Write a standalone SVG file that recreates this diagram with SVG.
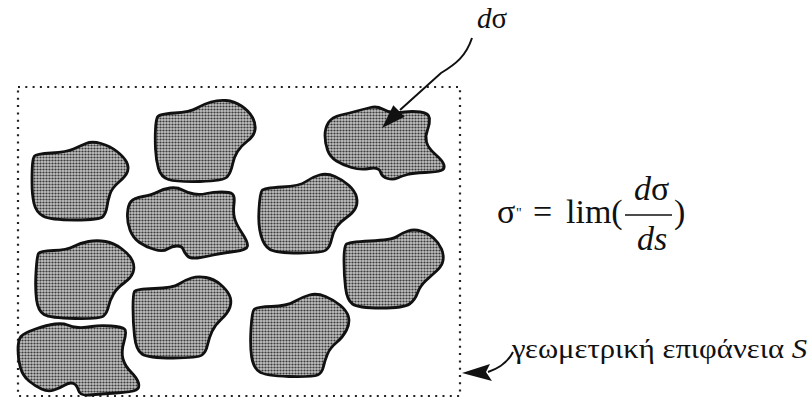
<svg xmlns="http://www.w3.org/2000/svg" width="810" height="398" viewBox="0 0 810 398">
<style>
.blob{fill:url(#stip);stroke:#111;stroke-width:2.8;stroke-linejoin:round}
.t{font-family:"Liberation Serif","Times New Roman","DejaVu Serif",serif;fill:#111}
.it{font-style:italic}
.up{font-style:normal}
.frame{fill:none;stroke:#222;stroke-width:2.2;stroke-dasharray:2 5.3}
.ln{fill:none;stroke:#111;stroke-width:2}
</style>
<defs>
<pattern id="stip" patternUnits="userSpaceOnUse" width="3" height="3">
<rect width="3" height="3" fill="#c2c2c2"/>
<circle cx="1.5" cy="1.5" r="1.1" fill="#3a3a3a"/>
</pattern>
</defs>
<rect width="810" height="398" fill="#fff"/>
<rect id="surface" class="frame" x="18" y="87" width="442" height="309"/>
<g id="grainA"><path class="blob" d="M32.5,164 Q33,158 34.5,156 Q36,154 51.5,153 Q67,152 73.5,149 Q80,146 86,143.5 Q92,141 101,143.5 Q110,146 117,151.5 Q124,157 126.5,162 Q129,167 127.5,171.5 Q126,176 119,182 Q112,188 110,194 Q108,200 107,206.5 Q106,213 103,216.5 Q100,220 75,220 Q50,220 43,216 Q36,212 34,203.5 Q32,195 32,182.5 Q32,170 32.5,164 Z"/></g>
<g id="grainB"><path class="blob" d="M155.5,129 Q156,120 157.5,117 Q159,114 174.5,113 Q190,112 197,108 Q204,104 211,102 Q218,100 226,100.5 Q234,101 241.5,106 Q249,111 252.5,117.5 Q256,124 255,130 Q254,136 247.5,141 Q241,146 237.5,151.5 Q234,157 232.5,164.5 Q231,172 227.5,176.5 Q224,181 200,181.5 Q176,182 168.5,179.5 Q161,177 158.5,168.5 Q156,160 155.5,149 Q155,138 155.5,129 Z"/></g>
<g id="grainC"><path class="blob" d="M325,135.5 Q325,128 328.5,122.5 Q332,117 341,115 Q350,113 357,111 Q364,109 370.5,107.5 Q377,106 382.5,109 Q388,112 393,112.5 Q398,113 405,112 Q412,111 420.5,112 Q429,113 429.5,118.5 Q430,124 427.5,130 Q425,136 426.5,142 Q428,148 435.5,154.5 Q443,161 444,165 Q445,169 441,170.5 Q437,172 425,172.5 Q413,173 407.5,174.5 Q402,176 397.5,178 Q393,180 387.5,178.5 Q382,177 380.5,172 Q379,167 369.5,168.5 Q360,170 351.5,167.5 Q343,165 336.5,161 Q330,157 327.5,150 Q325,143 325,135.5 Z"/></g>
<g id="grainD"><path class="blob" d="M127.5,213.5 Q128,205 131,201.5 Q134,198 143,196.5 Q152,195 157.5,192 Q163,189 170,188 Q177,187 182.5,190 Q188,193 194,194 Q200,195 206.5,193.5 Q213,192 221.5,192 Q230,192 232.5,194 Q235,196 234,204 Q233,212 234.5,218 Q236,224 242,233 Q248,242 247.5,246 Q247,250 234.5,251.5 Q222,253 213.5,255 Q205,257 197.5,258 Q190,259 187,255.5 Q184,252 183,249 Q182,246 177,246 Q172,246 167.5,249 Q163,252 154.5,249.5 Q146,247 139.5,242.5 Q133,238 130,230 Q127,222 127.5,213.5 Z"/></g>
<g id="grainE"><path class="blob" d="M259,209 Q260,193 262,190.5 Q264,188 282,187 Q300,186 306,181.5 Q312,177 319.5,175 Q327,173 335,176.5 Q343,180 349,185.5 Q355,191 356.5,197 Q358,203 355.5,208 Q353,213 346.5,217.5 Q340,222 336.5,227 Q333,232 331.5,239.5 Q330,247 326,250 Q322,253 299,253 Q276,253 270,249.5 Q264,246 261,235.5 Q258,225 259,209 Z"/></g>
<g id="grainF"><path class="blob" d="M36,272 Q37,256 38.5,253.5 Q40,251 53.5,250.5 Q67,250 73.5,246.5 Q80,243 88.5,241.5 Q97,240 105.5,241.5 Q114,243 122,249 Q130,255 132.5,261 Q135,267 133,272.5 Q131,278 124,283 Q117,288 113.5,294 Q110,300 108.5,306.5 Q107,313 103.5,316 Q100,319 75,318.5 Q50,318 44,314.5 Q38,311 36.5,299.5 Q35,288 36,272 Z"/></g>
<g id="grainG"><path class="blob" d="M18,350 Q18,340 21,336.5 Q24,333 35.5,329 Q47,325 55,324 Q63,323 67.5,325 Q72,327 78,327.5 Q84,328 92,326.5 Q100,325 111,326 Q122,327 124.5,329 Q127,331 124,341.5 Q121,352 123,359 Q125,366 131,372 Q137,378 138.5,383 Q140,388 136,390 Q132,392 116,393 Q100,394 90,395 Q80,396 78.5,390.5 Q77,385 73.5,383.5 Q70,382 65,385 Q60,388 54,390 Q48,392 41.5,389 Q35,386 29,381 Q23,376 20.5,368 Q18,360 18,350 Z"/></g>
<g id="grainH"><path class="blob" d="M133,308 Q133,294 134.5,291.5 Q136,289 154.5,288.5 Q173,288 179,284 Q185,280 191.5,278 Q198,276 206,277.5 Q214,279 220.5,284.5 Q227,290 229.5,295.5 Q232,301 230,307 Q228,313 221.5,319 Q215,325 212,331.5 Q209,338 207.5,345 Q206,352 202,355 Q198,358 173,358 Q148,358 142,354 Q136,350 134.5,336 Q133,322 133,308 Z"/></g>
<g id="grainI"><path class="blob" d="M251,328.5 Q252,312 254,309.5 Q256,307 271.5,306.5 Q287,306 294.5,301.5 Q302,297 309.5,295 Q317,293 325.5,296.5 Q334,300 340.5,305.5 Q347,311 348.5,317 Q350,323 346.5,330 Q343,337 336.5,342.5 Q330,348 327.5,354 Q325,360 323.5,366.5 Q322,373 317.5,375 Q313,377 289,376.5 Q265,376 259,371.5 Q253,367 251.5,356 Q250,345 251,328.5 Z"/></g>
<g id="grainJ"><path class="blob" d="M344,261 Q344,247 346,244.5 Q348,242 370,241 Q392,240 397,236.5 Q402,233 408,231 Q414,229 421,231 Q428,233 433.5,238 Q439,243 441.5,249 Q444,255 443,260.5 Q442,266 437,270.5 Q432,275 426,280.5 Q420,286 417.5,293 Q415,300 409.5,304 Q404,308 381,308 Q358,308 352.5,304 Q347,300 345.5,287.5 Q344,275 344,261 Z"/></g>
<g id="connectors">
<path class="ln" d="M472,38 C466,56 456,64 441,73 L400,110"/>
<polygon points="382,128 393.3,105.3 404.7,116.7" fill="#111"/>
<path class="ln" d="M513,352 C508,362 500,368 488,372"/>
<polygon points="462,373 490,364 486,372 492,381" fill="#111"/>
</g>
<g id="label-dsigma"><text class="t it" x="477" y="28" font-size="29">d<tspan class="up">σ</tspan></text></g>
<g id="formula" class="t" font-size="34">
<text x="497" y="223">σ</text>
<text x="516" y="218" font-size="14">"</text>
<text x="533" y="223">=</text>
<text x="566" y="223">lim(</text>
<text class="it" x="634" y="200">d<tspan class="up">σ</tspan></text>
<line x1="625" y1="215" x2="672" y2="215" stroke="#111" stroke-width="1.6"/>
<text class="it" x="637" y="250">ds</text>
<text x="674" y="223">)</text>
</g>
<g id="label-surface"><text class="t" x="512" y="358" font-size="28" textLength="295" lengthAdjust="spacingAndGlyphs">γεωμετρική επιφάνεια <tspan class="it">S</tspan></text></g>
</svg>
